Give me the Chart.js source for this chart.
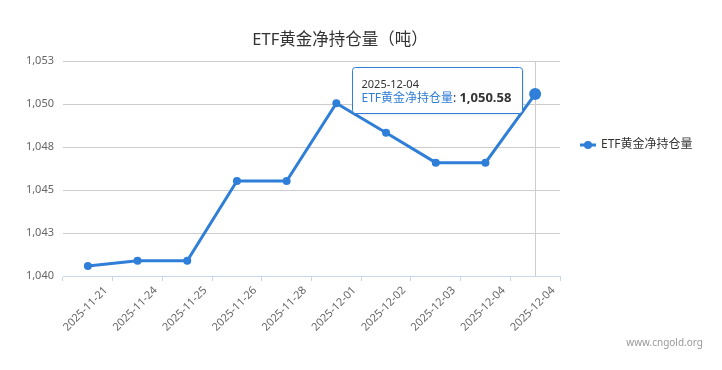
<!DOCTYPE html>
<html>
<head>
<meta charset="utf-8">
<script src="https://cdn.jsdelivr.net/npm/chart.js@4/dist/chart.umd.min.js"></script>
<style>
html,body{margin:0;padding:0;background:#fff;}
#wrap{position:relative;width:722px;height:370px;}
</style>
</head>
<body>
<div id="wrap"><canvas id="c" width="722" height="370"></canvas></div>
<script>
const titleText = 'ETF黄金净持仓量（吨）';
const seriesName = 'ETF黄金净持仓量';
const categories = ['2025-11-21','2025-11-24','2025-11-25','2025-11-26','2025-11-28','2025-12-01','2025-12-02','2025-12-03','2025-12-04','2025-12-04'];
const values = [1040.58, 1040.89, 1040.89, 1045.52, 1045.52, 1050.04, 1048.33, 1046.59, 1046.59, 1050.58];
const yMin = 1040, yMax = 1052.5, yStep = 2.5;
const activeIndex = values.length - 1;
const watermark = 'www.cngold.org';

const FONT = '"Noto Sans", "Noto Sans CJK SC", sans-serif';
const BLUE = '#2f7ed8';

const extras = {
  id: 'extras',
  beforeDatasetsDraw(chart) {
    const ctx = chart.ctx;
    const p = chart.getDatasetMeta(0).data[activeIndex];
    const a = chart.chartArea;
    ctx.save();
    ctx.strokeStyle = '#cccccc';
    ctx.lineWidth = 1;
    ctx.beginPath();
    ctx.moveTo(Math.round(p.x) + 0.5, a.top);
    ctx.lineTo(Math.round(p.x) + 0.5, a.bottom);
    ctx.stroke();
    ctx.restore();
  },
  afterDraw(chart) {
    const ctx = chart.ctx;
    ctx.save();
    // title
    ctx.fillStyle = '#333333';
    ctx.font = '16.5px ' + FONT;
    ctx.textAlign = 'center';
    ctx.textBaseline = 'middle';
    ctx.fillText(titleText, 340, 40);
    // legend
    const ly = 145;
    ctx.strokeStyle = BLUE;
    ctx.lineWidth = 3;
    ctx.beginPath();
    ctx.moveTo(580, ly); ctx.lineTo(596, ly); ctx.stroke();
    ctx.fillStyle = BLUE;
    ctx.beginPath(); ctx.arc(588, ly, 4, 0, Math.PI * 2); ctx.fill();
    ctx.fillStyle = '#333333';
    ctx.font = '12px ' + FONT;
    ctx.textAlign = 'left';
    ctx.fillText(seriesName, 601, ly);
    // watermark
    ctx.fillStyle = '#999999';
    ctx.font = '10px ' + FONT;
    ctx.textAlign = 'right';
    ctx.fillText(watermark, 703, 343);
    ctx.restore();
  },
  afterDatasetsDraw(chart) {
    const ctx = chart.ctx;
    ctx.save();
    const p = chart.getDatasetMeta(0).data[activeIndex];
    const bx = Math.round(p.x) - 183 + 0.5, by = Math.round(p.y) - 27 + 0.5, bw = 170, bh = 46;
    ctx.shadowColor = 'rgba(0,0,0,0.12)';
    ctx.shadowOffsetX = 1; ctx.shadowOffsetY = 1; ctx.shadowBlur = 3;
    ctx.fillStyle = 'rgba(255,255,255,0.97)';
    ctx.beginPath();
    ctx.roundRect(bx, by, bw, bh, 3);
    ctx.fill();
    ctx.shadowColor = 'transparent';
    ctx.strokeStyle = BLUE;
    ctx.lineWidth = 1;
    ctx.stroke();
    ctx.textAlign = 'left';
    ctx.textBaseline = 'middle';
    ctx.fillStyle = '#333333';
    ctx.font = '11px ' + FONT;
    ctx.fillText(categories[activeIndex], bx + 9, by + 17);
    let tx = bx + 9;
    ctx.font = '12px ' + FONT;
    ctx.fillStyle = BLUE;
    ctx.fillText(seriesName, tx, by + 31);
    tx += ctx.measureText(seriesName).width;
    ctx.fillStyle = '#333333';
    ctx.fillText(': ', tx, by + 31);
    tx += ctx.measureText(': ').width;
    ctx.font = 'bold 13px ' + FONT;
    ctx.fillText(values[activeIndex].toLocaleString('en-US', {minimumFractionDigits: 2, maximumFractionDigits: 2}), tx, by + 31);
    ctx.restore();
  }
};

new Chart(document.getElementById('c'), {
  type: 'line',
  data: {
    labels: categories,
    datasets: [{
      label: seriesName,
      data: values,
      borderColor: BLUE,
      backgroundColor: BLUE,
      borderWidth: 3,
      pointRadius: (c) => c.dataIndex === activeIndex ? 6 : 4,
      pointBackgroundColor: BLUE,
      pointBorderWidth: 0,
      tension: 0,
      fill: false
    }]
  },
  options: {
    responsive: false,
    animation: false,
    events: [],
    layout: { padding: { left: 0, right: 162, top: 61, bottom: 0 } },
    plugins: {
      legend: { display: false },
      title: { display: false },
      tooltip: { enabled: false }
    },
    scales: {
      x: {
        type: 'category',
        offset: true,
        grid: {
          offset: true,
          drawOnChartArea: false,
          drawTicks: true,
          tickLength: 5,
          color: '#ccd6eb'
        },
        border: { display: true, color: '#ccd6eb', width: 1 },
        ticks: {
          autoSkip: false,
          maxRotation: 45,
          minRotation: 45,
          labelOffset: 18,
          padding: 3,
          color: '#666666',
          font: { size: 11, family: FONT }
        },
        afterFit(s) { s.height = 94; }
      },
      y: {
        min: yMin,
        max: yMax,
        grid: {
          color: (c) => c.index === 0 ? 'rgba(0,0,0,0)' : '#cccccc',
          drawTicks: false,
          lineWidth: 1
        },
        border: { display: false },
        ticks: {
          stepSize: yStep,
          padding: 9,
          color: '#666666',
          font: { size: 11, family: FONT },
          callback: (v) => Math.round(v).toLocaleString('en-US')
        },
        afterFit(s) { s.width = 63; }
      }
    }
  },
  plugins: [extras]
});
</script>
</body>
</html>
